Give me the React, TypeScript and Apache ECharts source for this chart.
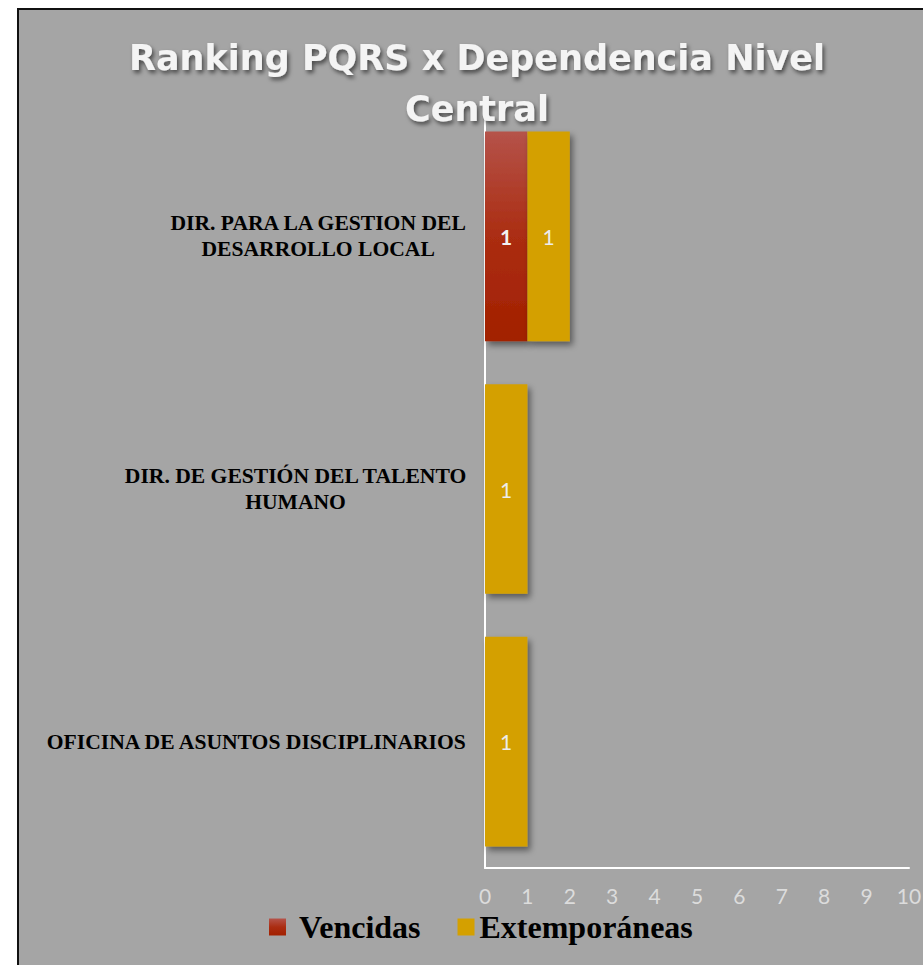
import React, { useEffect, useRef } from "react";
import * as echarts from "echarts";

const titleText = "Ranking PQRS x Dependencia Nivel\nCentral";
const categories = [
  "DIR. PARA LA GESTION DEL\nDESARROLLO LOCAL",
  "DIR. DE GESTIÓN DEL TALENTO\nHUMANO",
  "OFICINA DE ASUNTOS DISCIPLINARIOS",
];
const seriesNames = ["Vencidas", "Extemporáneas"];
const vencidas = [1, 0, 0];
const extemporaneas = [1, 1, 1];
const xMin = 0;
const xMax = 10;
const xInterval = 1;

export default function App() {
  const ref = useRef<HTMLDivElement>(null);
  useEffect(() => {
    if (!ref.current) return;
    const chart = echarts.init(ref.current, null, { renderer: "svg" });
    const shadow = {
      shadowColor: "rgba(0,0,0,0.45)",
      shadowBlur: 6,
      shadowOffsetX: 3,
      shadowOffsetY: 4,
    };
    chart.setOption({
      animation: false,
      backgroundColor: "#a5a5a5",
      title: {
        text: titleText,
        left: "center",
        top: 17,
        textStyle: {
          fontFamily: "DejaVu Sans",
          fontWeight: "bold",
          fontSize: 35,
          lineHeight: 51,
          color: "#f4f4f4",
          textShadowColor: "rgba(0,0,0,0.55)",
          textShadowBlur: 4,
          textShadowOffsetX: 2,
          textShadowOffsetY: 3,
        },
      },
      legend: {
        bottom: 17,
        left: 250,
        padding: [5, 0, 5, 0],
        itemWidth: 17,
        itemHeight: 17,
        itemGap: 37,
        icon: "rect",
        data: [
          { name: seriesNames[0], textStyle: { padding: [0, 0, 0, 8] } },
          { name: seriesNames[1] },
        ],
        textStyle: {
          fontFamily: "Liberation Serif",
          fontWeight: "bold",
          fontSize: 32,
          color: "#000",
        },
      },
      grid: { left: 466, right: 26, top: 100, bottom: 97, containLabel: false },
      xAxis: {
        type: "value",
        min: xMin,
        max: xMax,
        interval: xInterval,
        axisLine: { show: true, lineStyle: { color: "#ffffff", width: 2 } },
        axisTick: { show: false },
        splitLine: { show: false },
        axisLabel: {
          margin: 17,
          fontFamily: "Lato",
          fontSize: 21,
          color: "#dcdcdc",
        },
      },
      yAxis: {
        type: "category",
        inverse: true,
        data: categories,
        axisLine: { show: true, lineStyle: { color: "#ffffff", width: 2 } },
        axisTick: { show: false },
        axisLabel: {
          margin: 18,
          formatter: (v: string) =>
            v
              .split("\n")
              .map((l) => `{c|${l}}`)
              .join("\n"),
          rich: {
            c: {
              align: "center",
              fontFamily: "Liberation Serif",
              fontWeight: "bold",
              fontSize: 21.6,
              lineHeight: 26,
              color: "#000",
            },
          },
        },
      },
      series: [
        {
          name: seriesNames[0],
          type: "bar",
          stack: "total",
          barCategoryGap: "17%",
          data: vencidas,
          itemStyle: {
            color: new echarts.graphic.LinearGradient(0, 0, 0, 1, [
              { offset: 0, color: "#b5534a" },
              { offset: 0.5, color: "#ab2d12" },
              { offset: 1, color: "#a22000" },
            ]),
            ...shadow,
          },
          label: {
            show: true,
            position: "inside",
            formatter: (p: any) => (p.value ? String(p.value) : ""),
            fontFamily: "Lato",
            fontWeight: "bold",
            fontSize: 21,
            color: "#f2f2f2",
          },
        },
        {
          name: seriesNames[1],
          type: "bar",
          stack: "total",
          barCategoryGap: "17%",
          data: extemporaneas,
          itemStyle: { color: "#d4a000", ...shadow },
          label: {
            show: true,
            position: "inside",
            formatter: (p: any) => (p.value ? String(p.value) : ""),
            fontFamily: "Lato",
            fontSize: 21,
            color: "#ececec",
          },
        },
      ],
    });
    return () => chart.dispose();
  }, []);

  return (
    <div
      style={{
        position: "absolute",
        left: 0,
        top: 0,
        width: 923,
        height: 965,
        background: "#ffffff",
        overflow: "hidden",
      }}
    >
      <div
        style={{
          position: "absolute",
          left: 17,
          top: 8,
          width: 940,
          height: 970,
          borderLeft: "2px solid #111",
          borderTop: "2px solid #111",
          overflow: "hidden",
        }}
      >
        <div ref={ref} style={{ width: 916, height: 955 }} />
      </div>
    </div>
  );
}
